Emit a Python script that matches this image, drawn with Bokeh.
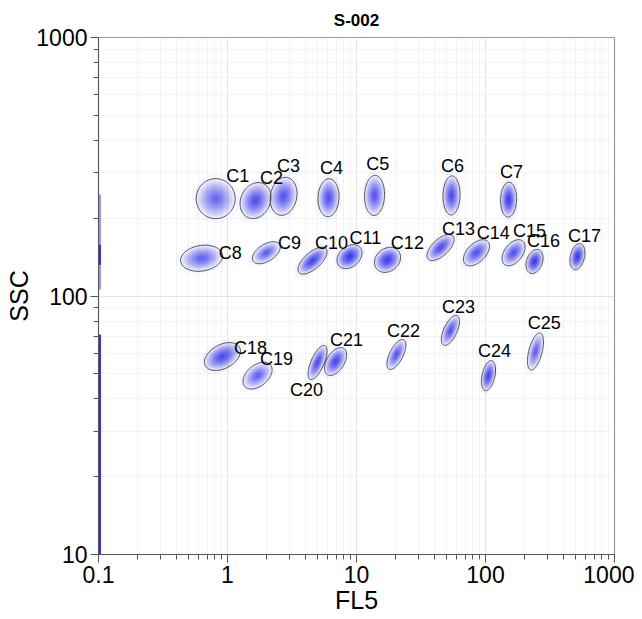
import numpy as np
from bokeh.plotting import figure
from bokeh.models import Range1d, FixedTicker, CustomJSTickFormatter, ColumnDataSource
from bokeh.embed import file_html
from bokeh.resources import INLINE
from bokeh.core.properties import value

# ---------------- data ----------------
gate_names = ["C1", "C2", "C3", "C4", "C5", "C6", "C7", "C8", "C9", "C10",
              "C11", "C12", "C13", "C14", "C15", "C16", "C17", "C18", "C19",
              "C20", "C21", "C22", "C23", "C24", "C25"]
# gate centres (FL5, SSC)
gate_x = [0.81, 1.65, 2.72, 6.07, 13.8, 54.5, 151, 0.63, 2.0, 4.56,
          8.83, 17.4, 44.8, 85.1, 165, 240, 516, 0.914, 1.71,
          4.99, 6.88, 20.4, 53.5, 105.5, 244]
gate_y = [238, 234, 243, 240, 245, 245, 236, 140, 147, 137,
          142, 138, 154, 147, 147, 136, 142, 58.3, 49.2,
          55.3, 55.8, 59.4, 73.6, 49.2, 61.0]
# gate extents in decades (full width / full height) and tilt (shear)
gate_w_dec = [0.302, 0.240, 0.209, 0.163, 0.155, 0.132, 0.124, 0.326, 0.217, 0.225,
              0.194, 0.202, 0.209, 0.202, 0.178, 0.132, 0.116, 0.279, 0.225,
              0.147, 0.171, 0.147, 0.140, 0.109, 0.124]
gate_h_dec = [0.155, 0.139, 0.147, 0.147, 0.155, 0.151, 0.135, 0.101, 0.085, 0.104,
              0.093, 0.097, 0.101, 0.101, 0.101, 0.093, 0.101, 0.108, 0.104,
              0.132, 0.108, 0.116, 0.116, 0.116, 0.143]
gate_tilt = [0.0, 0.1, 0.1, 0.05, 0.05, 0.05, 0.05, 0.05, 0.2, 0.3,
             0.15, 0.1, 0.3, 0.25, 0.25, 0.2, 0.25, 0.15, 0.2,
             0.6, 0.3, 0.5, 0.5, 0.4, 0.6]
gate_density = [0.6, 0.8, 0.75, 0.8, 0.75, 0.85, 1.0, 0.65, 0.7, 0.95,
                1.05, 1.0, 0.85, 0.8, 0.8, 1.05, 1.05, 0.85, 0.65,
                0.85, 0.9, 0.75, 0.8, 0.95, 0.7]
# label anchor positions
label_x = [1.20, 2.19, 2.97, 6.4, 14.6, 55.5, 159, 1.05, 3.03, 6.4,
           11.7, 24.8, 61.8, 115, 219, 282, 585, 1.51, 2.40,
           4.09, 8.36, 23.1, 61.8, 117.5, 286]
label_y = [290, 287, 317, 314, 323, 317, 301, 147, 161, 160,
           168, 161, 182, 176, 178, 163, 171, 62.7, 57.3,
           43.4, 67.3, 73.0, 91, 61.0, 78.3]
# events piled up on the FL5 axis (SSC ranges)
axis_pile_top = [247, 158, 71]
axis_pile_bottom = [106, 132, 10]
axis_pile_alpha = [0.45, 0.85, 0.9]

x_major = [0.1, 1, 10, 100, 1000]
y_major = [10, 100, 1000]

# ---------------- figure ----------------
p = figure(frame_width=516, frame_height=517, x_axis_type="log", y_axis_type="log",
           x_range=Range1d(0.1, 1000), y_range=Range1d(10, 1000),
           output_backend="svg", toolbar_location=None,
           min_border_left=98, min_border_right=20, min_border_top=37,
           min_border_bottom=10, title="S-002")
p.background_fill_color = "white"
p.border_fill_color = "white"
p.outline_line_color = "#9a9a9a"
p.outline_line_width = 1.2

FONT = "Liberation Sans"
p.title.text_font = FONT
p.title.text_font_size = "17px"
p.title.text_font_style = "bold"
p.title.align = "center"
p.title.text_color = "black"
p.title.standoff = 16


def minor_list(lo_exp, hi_exp):
    return [k * 10.0 ** e for e in range(lo_exp, hi_exp) for k in range(2, 10)]


p.xaxis.ticker = FixedTicker(ticks=x_major, minor_ticks=minor_list(-1, 3))
p.yaxis.ticker = FixedTicker(ticks=y_major, minor_ticks=minor_list(1, 3))
p.xgrid.ticker = p.xaxis.ticker
p.ygrid.ticker = p.yaxis.ticker
fmt = CustomJSTickFormatter(code="return String(Number(tick.toPrecision(6)));")
p.xaxis.formatter = fmt
p.yaxis.formatter = fmt

p.xaxis.axis_label = "FL5"
p.yaxis.axis_label = "SSC"
for ax in (p.xaxis, p.yaxis):
    ax.axis_label_text_font = FONT
    ax.axis_label_text_font_size = "25px"
    ax.axis_label_text_font_style = "normal"
    ax.axis_label_text_color = "black"
    ax.major_label_text_font = FONT
    ax.major_label_text_font_size = "23px"
    ax.major_label_text_color = "black"
    ax.axis_line_color = "#555555"
    ax.major_tick_line_color = "#555555"
    ax.minor_tick_line_color = "#555555"
    ax.major_tick_out = 8
    ax.major_tick_in = 0
    ax.minor_tick_out = 5
    ax.minor_tick_in = 0
    ax.axis_label_standoff = 0
    ax.major_label_standoff = 3

for g in (p.xgrid, p.ygrid):
    g.grid_line_color = "#e4e4e4"
    g.minor_grid_line_color = "#f3f3f3"

# density clouds + gates
t = np.linspace(0, 2 * np.pi, 90)


def ellipse(i, s):
    rx = gate_w_dec[i] / 2 * s
    hh = gate_h_dec[i] / 2 * s
    k = gate_tilt[i]
    ry = np.sqrt(max(hh ** 2 - (k * rx) ** 2, 1e-6))
    u = np.log10(gate_x[i]) + rx * np.cos(t)
    v = np.log10(gate_y[i]) + ry * np.sin(t) + k * rx * np.cos(t)
    return list(10 ** u), list(10 ** v)


layers = [(1.25, 0.05)] + [(s, 0.11 + 0.12 * (1 - s)) for s in np.linspace(0.96, 0.12, 10)]
xs, ys, alphas = [], [], []
for s, a in layers:
    for i in range(len(gate_names)):
        ex, ey = ellipse(i, s)
        xs.append(ex)
        ys.append(ey)
        alphas.append(min(a * gate_density[i], 0.32))
p.patches(xs="xs", ys="ys", fill_alpha="a", source=ColumnDataSource(dict(xs=xs, ys=ys, a=alphas)),
          fill_color="#2020e8", line_color=None)

gx, gy = [], []
for i in range(len(gate_names)):
    ex, ey = ellipse(i, 1.0)
    gx.append(ex)
    gy.append(ey)
p.patches(xs=gx, ys=gy, fill_color=None, line_color="#3a3a3a", line_width=0.9)

p.text(x=label_x, y=label_y, text=gate_names, text_font=value(FONT),
       text_font_size="18px", text_align="center", text_baseline="middle",
       text_color="black")

# events on the axis (drawn over the axis line)
p.segment(x0=[0.1] * len(axis_pile_top), y0=axis_pile_bottom,
          x1=[0.1] * len(axis_pile_top), y1=axis_pile_top,
          line_color="#1a1aff", line_width=5, line_alpha=axis_pile_alpha)

open("out.html", "w").write(file_html(p, INLINE))
